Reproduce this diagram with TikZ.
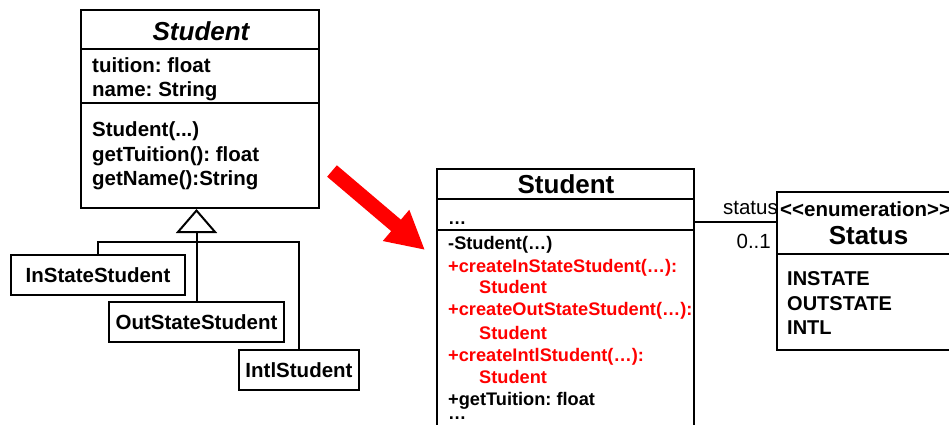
\documentclass[tikz,border=0pt]{standalone}
\usepackage{fontspec}
\setmainfont{Liberation Sans}
\usetikzlibrary{arrows.meta}
\frenchspacing

\begin{document}
\begin{tikzpicture}[x=1pt,y=-1pt,
  umlbox/.style={draw, line width=2pt, inner sep=0pt, fill=white},
  rule/.style={line width=2pt},
  link/.style={line width=2pt},
  txt/.style={anchor=base west, inner sep=0pt, font=\bfseries\fontsize{20.5}{24}\selectfont},
  stxt/.style={anchor=base west, inner sep=0pt, font=\bfseries\fontsize{18.2}{22}\selectfont},
  title/.style={anchor=base, inner sep=0pt, font=\bfseries\fontsize{26}{30}\selectfont},
  plain/.style={anchor=base east, inner sep=0pt, font=\fontsize{20.5}{24}\selectfont},
  leaf/.style={umlbox, font=\bfseries\fontsize{20.5}{24}\selectfont},
  fac/.style={text=red}
]
\useasboundingbox (0,0) rectangle (949,425);
\clip (0,0) rectangle (949,425);

% ---- original hierarchy ----
\node[umlbox, minimum width=238pt, minimum height=198pt] (stu) at (200,109) {};
\draw[rule] ([yshift=-40pt]stu.north west) -- ([yshift=-40pt]stu.north east);
\draw[rule] ([yshift=-94pt]stu.north west) -- ([yshift=-94pt]stu.north east);
\node[title, font=\bfseries\itshape\fontsize{26}{30}\selectfont] (stut) at (201,41) {Student};
\node[txt] (a1) at (92,73) {tuition: float};
\node[txt] (a2) at (92,97) {name: String};
\node[txt] (m1) at (92,136) {Student(...)};
\node[txt] (m2) at (92,161) {getTuition(): float};
\node[txt] (m3) at (92,185) {getName():String};

\node[leaf, minimum width=174pt, minimum height=40pt] (in) at (98,275) {InStateStudent};
\node[leaf, minimum width=175pt, minimum height=40pt] (out) at (196.5,322) {OutStateStudent};
\node[leaf, minimum width=120pt, minimum height=40pt] (intl) at (299,370) {IntlStudent};

\coordinate (bus) at (196.5,242);
\draw[link] (in.north) |- (bus) -| (intl.north);
\draw[link, -{Triangle[open, length=24pt, width=41pt]}] (out.north) -- (out.north |- stu.south);

% ---- refactoring arrow ----
\coordinate (rs) at (332,171);
\coordinate (rt) at (425,250);
\draw[red, line width=15pt, -{Triangle[length=38pt, width=38pt]}] (rs) -- (rt);

% ---- refactored class ----
\node[umlbox, minimum width=257pt, minimum height=291pt] (rstu) at (565.5,314.5) {};
\draw[rule] ([yshift=-31pt]rstu.north west) -- ([yshift=-31pt]rstu.north east);
\draw[rule] ([yshift=-62pt]rstu.north west) -- ([yshift=-62pt]rstu.north east);
\node[title] (rstut) at (566,193) {Student};
\node[stxt] (r0) at (448,224) {…};
\node[stxt] (r1) at (448,249) {-Student(…)};
\node[stxt, fac] (r2) at (448,272) {+createInStateStudent(…):};
\node[stxt, fac] (r2b) at (479,293) {Student};
\node[stxt, fac] (r3) at (448,315) {+createOutStateStudent(…):};
\node[stxt, fac] (r3b) at (479,339) {Student};
\node[stxt, fac] (r4) at (448,361) {+createIntlStudent(…):};
\node[stxt, fac] (r4b) at (479,383) {Student};
\node[stxt] (r5) at (448,405) {+getTuition: float};
\node[stxt] (r6) at (448,419) {…};

% ---- enumeration ----
\node[umlbox, minimum width=185pt, minimum height=158pt] (status) at (869.5,271) {};
\draw[rule] ([yshift=-63pt]status.north west) -- ([yshift=-63pt]status.north east);
\node[txt] (ster) at (780,216) {<{}<enumeration>{}>};
\node[title] (stt) at (868.5,244) {Status};
\node[txt, font=\bfseries\fontsize{20}{24}\selectfont] (e1) at (787,285) {INSTATE};
\node[txt, font=\bfseries\fontsize{20}{24}\selectfont] (e2) at (787,310) {OUTSTATE};
\node[txt, font=\bfseries\fontsize{20}{24}\selectfont] (e3) at (787,334) {INTL};

% ---- association ----
\draw[link] ([yshift=-54pt]rstu.north east) -- ([yshift=-31pt]status.north west);
\node[plain] (role) at (778,214) {status};
\node[plain] (mult) at (771,248) {0..1};
\end{tikzpicture}
\end{document}
